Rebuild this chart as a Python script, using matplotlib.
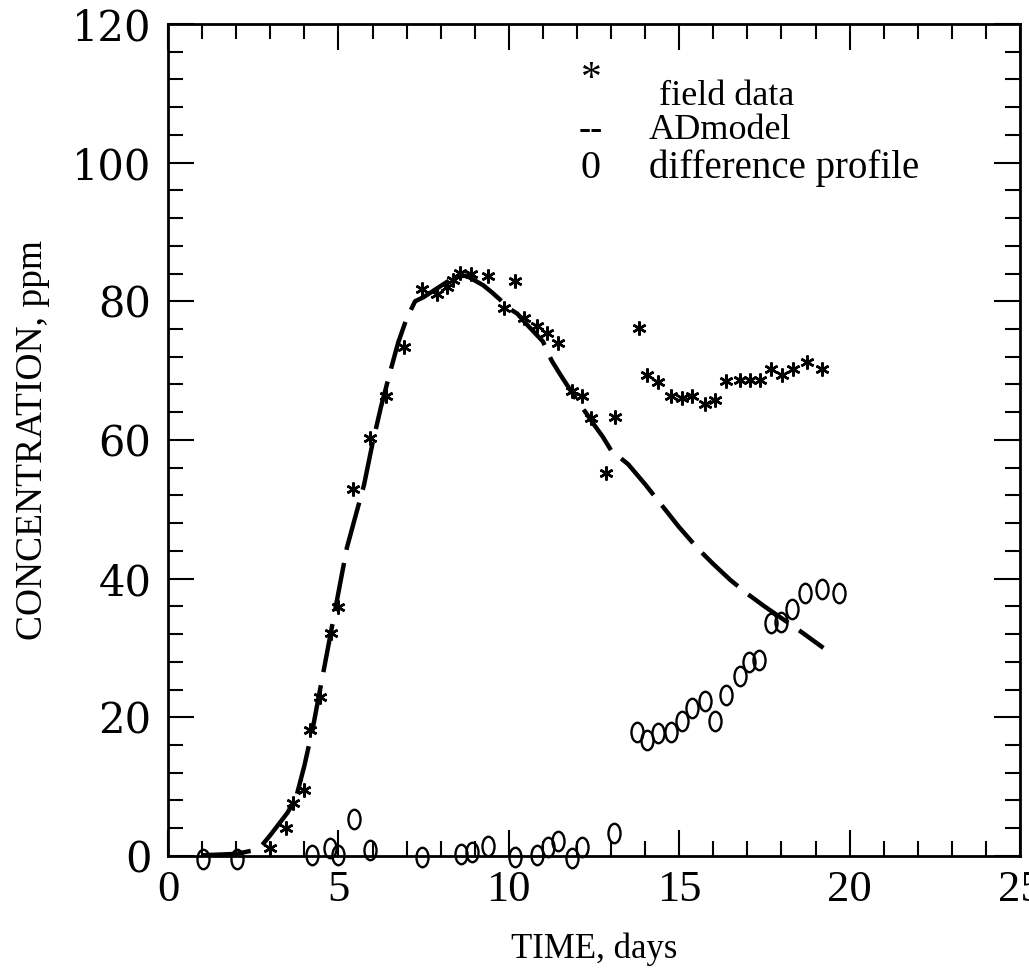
import numpy as np
import matplotlib.pyplot as plt
from matplotlib.path import Path
from matplotlib.transforms import Affine2D
from matplotlib.ticker import MultipleLocator

plt.rcParams['font.family'] = ['Liberation Serif', 'DejaVu Serif']

# field data (asterisks)
field_t = [2.99, 3.47, 3.67, 3.98, 4.16, 4.45, 4.77, 4.98, 5.42, 5.93, 6.40, 6.91,
           7.46, 7.88, 8.18, 8.35, 8.58, 8.89, 9.38, 9.87, 10.19, 10.45, 10.84, 11.13,
           11.45, 11.85, 12.14, 12.40, 12.84, 13.11, 13.82, 14.06, 14.37, 14.76, 15.07,
           15.38, 15.77, 16.06, 16.36, 16.77, 17.07, 17.36, 17.70, 18.01, 18.33, 18.74, 19.20]
field_c = [1.1, 4.0, 7.6, 9.5, 18.1, 22.9, 32.2, 35.9, 52.9, 60.3, 66.4, 73.4,
           81.8, 81.1, 82.1, 83.0, 84.1, 84.0, 83.6, 79.0, 82.9, 77.6, 76.5, 75.4,
           74.0, 67.1, 66.3, 63.2, 55.3, 63.3, 76.1, 69.4, 68.4, 66.3, 66.0,
           66.3, 65.2, 65.8, 68.5, 68.7, 68.7, 68.7, 70.3, 69.3, 70.3, 71.3, 70.3]

# AD model curve
model_t = [1.0, 2.0, 2.5, 2.75, 3.0, 3.5, 3.75, 4.0, 4.25, 4.5, 4.75, 5.0, 5.25, 5.5,
           5.75, 6.0, 6.25, 6.5, 6.75, 7.0, 7.25, 7.5, 7.75, 8.0, 8.25, 8.5, 8.75, 9.0,
           9.25, 9.5, 9.75, 10.0, 10.25, 10.5, 10.75, 11.0, 11.25, 11.5, 11.75, 12.0,
           12.25, 12.5, 12.75, 13.0, 13.5, 14.0, 14.5, 15.0, 15.57, 16.0, 16.5, 17.0,
           17.5, 18.0, 18.5, 19.23]
model_c = [0.1, 0.3, 0.8, 1.5, 3.0, 6.2, 8.3, 13.0, 18.5, 25.0, 31.5, 38.0, 44.5, 49.0,
           53.5, 59.5, 64.8, 69.5, 74.0, 77.5, 80.0, 80.6, 81.4, 82.2, 83.0, 83.6, 83.7, 83.0,
           82.3, 81.3, 80.2, 79.0, 78.2, 76.8, 75.5, 74.2, 71.5, 69.5, 67.6, 65.7,
           64.0, 62.2, 60.5, 58.5, 56.5, 53.6, 50.5, 47.4, 44.2, 42.1, 39.8, 37.8,
           36.0, 34.3, 32.6, 30.0]

# difference profile ("0")
diff_t = [1.02, 2.01, 4.21, 4.74, 4.99, 5.45, 5.93, 7.45, 8.60, 8.91, 9.40, 10.18,
          10.84, 11.15, 11.45, 11.84, 12.14, 13.09, 13.77, 14.06, 14.38, 14.77, 15.09,
          15.38, 15.77, 16.04, 16.36, 16.77, 17.04, 17.35, 17.70, 17.99, 18.30, 18.70,
          19.18, 19.70]
diff_c = [-0.5, -0.5, 0.1, 1.1, 0.1, 5.3, 0.9, -0.2, 0.3, 0.6, 1.5, -0.1,
          0.2, 1.3, 2.1, -0.3, 1.3, 3.3, 17.9, 16.7, 17.7, 17.9, 19.4,
          21.3, 22.4, 19.4, 23.2, 25.9, 28.0, 28.3, 33.6, 33.7, 35.6, 37.9,
          38.5, 37.9]

# tall ellipse marker for the "0" symbols
ellipse = Path.unit_circle().transformed(Affine2D().scale(0.62, 1.0))

fig = plt.figure(figsize=(10.29, 9.76), dpi=100)
ax = fig.add_axes([0.1633, 0.1230, 0.8280, 0.8525])

ax.plot(model_t, model_c, color='black', lw=3.2, linestyle=(0, (11, 3)),
        solid_capstyle='butt', dash_capstyle='butt')
ax.plot(field_t, field_c, linestyle='none', marker=(6, 2, 0), ms=10, mew=1.8,
        color='black', clip_on=False)
ax.plot(diff_t, diff_c, linestyle='none', marker=ellipse, ms=14, mew=1.7,
        mfc='none', mec='black', clip_on=False)

ax.set_xlim(0, 25)
ax.set_ylim(0, 120)
ax.xaxis.set_major_locator(MultipleLocator(5))
ax.xaxis.set_minor_locator(MultipleLocator(1))
ax.yaxis.set_major_locator(MultipleLocator(20))
ax.yaxis.set_minor_locator(MultipleLocator(4))

ax.tick_params(which='both', direction='in', top=True, right=True, width=1.5, color='black')
ax.tick_params(which='major', length=19)
ax.tick_params(which='minor', length=11)
ax.tick_params(axis='x', which='major', labelsize=32, pad=10)
ax.tick_params(axis='y', which='major', labelsize=30, pad=12)
for lab in ax.get_yticklabels():
    lab.set_family('DejaVu Serif')
for sp in ax.spines.values():
    sp.set_linewidth(2.0)

ax.set_xlabel('TIME, days', fontsize=25, labelpad=16)
ax.set_ylabel('CONCENTRATION, ppm', fontsize=27, labelpad=16)

# legend drawn as text, like the original
ax.text(12.41, 112.0, '*', fontsize=30, ha='center', va='center')
ax.text(14.4, 109.6, 'field data', fontsize=26, ha='left', va='center')
ax.text(12.41, 104.6, '--', fontsize=26, ha='center', va='center', fontweight='bold')
ax.text(14.1, 104.6, 'ADmodel', fontsize=26, ha='left', va='center')
ax.text(12.41, 99.1, '0', fontsize=29, ha='center', va='center')
ax.text(14.1, 99.2, 'difference profile', fontsize=28, ha='left', va='center')

fig.savefig('out.png', dpi=100)
